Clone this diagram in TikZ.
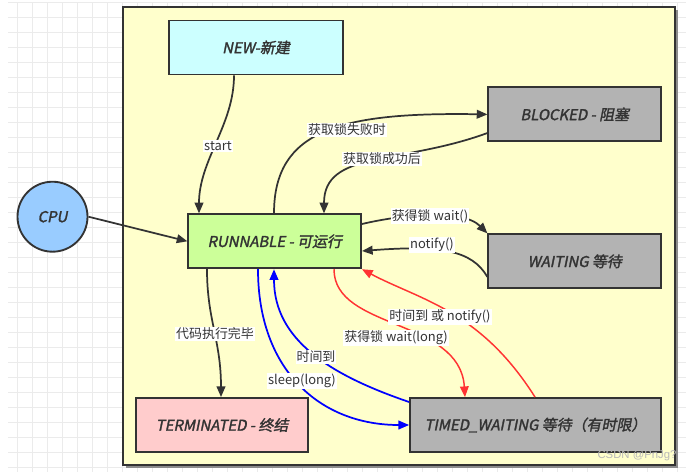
\documentclass[tikz,border=0pt]{standalone}
\usepackage{fontspec}
\setmainfont{Noto Sans CJK SC}
\newfontfamily\boxfont{Noto Sans CJK SC}[FakeSlant=0.2,FakeBold=1.8]
\newfontfamily\wmfont{Liberation Sans}
\usetikzlibrary{arrows.meta,calc}
\definecolor{ink}{HTML}{333333}
\definecolor{frameY}{HTML}{FFFFCC}
\definecolor{newC}{HTML}{CCFFFF}
\definecolor{runC}{HTML}{CCFF99}
\definecolor{greyC}{HTML}{B3B3B3}
\definecolor{termC}{HTML}{FFCCCC}
\definecolor{cpuC}{HTML}{99CCFF}
\definecolor{blueL}{HTML}{0000FF}
\definecolor{redL}{HTML}{FF3333}
\definecolor{gridL}{HTML}{EBEBEB}
\tikzset{
  statebox/.style={draw=ink, line width=1.4pt, minimum height=40.5pt, minimum width=129.5pt,
    text=ink, font=\boxfont\fontsize{11.2}{13}\selectfont, inner sep=0pt},
  lab/.style={fill=white, inner sep=0.8pt, text=ink, font=\fontsize{9.7}{11}\selectfont},
  conn/.style={draw=ink, line width=1.3pt, -{Triangle[length=8pt,width=6.5pt]}},
  bconn/.style={draw=blueL, line width=1.3pt, -{Triangle[length=8pt,width=6.5pt]}},
  rconn/.style={draw=redL, line width=1.1pt, -{Triangle[length=8pt,width=6.5pt]}}
}
\begin{document}
\begin{tikzpicture}[x=0.75pt,y=-0.75pt]
\useasboundingbox (0,0) rectangle (686,472);
% background grid
\fill[white] (0,0) rectangle (686,472);
\foreach \gx in {17,32,...,686} \draw[gridL, line width=0.75pt] (\gx,2) -- (\gx,472);
\foreach \gy in {2,17,...,472} \draw[gridL, line width=0.75pt] (8,\gy) -- (686,\gy);
% frame
\fill[black!45] (125.5,9.5) rectangle (677.5,467.5);
\draw[draw=ink, fill=frameY, line width=1.4pt] (123,7) rectangle (675,465);
% states
\node[statebox, fill=newC, minimum width=130pt] (new) at (256,47.5) {NEW-新建};
\node[statebox, fill=greyC] (blocked) at (574.7,114.4) {BLOCKED - 阻塞};
\node[statebox, fill=runC] (runnable) at (274.7,241.3) {RUNNABLE - 可运行};
\node[statebox, fill=greyC] (waiting) at (574.7,261.3) {WAITING 等待};
\node[statebox, fill=termC] (terminated) at (222,425) {TERMINATED - 终结};
\node[statebox, fill=greyC, minimum width=188pt] (timed) at (535.4,425) {TIMED\_WAITING 等待（有时限）};
\node[circle, draw=ink, line width=1.4pt, fill=cpuC, minimum size=52.5pt, inner sep=0pt,
  text=ink, font=\boxfont\fontsize{11.2}{13}\selectfont] (cpu) at (52.5,216.7) {CPU};
% connectors
\draw[conn] (cpu.east) -- (runnable.west);
\draw[conn] (new.south -| 234,0) .. controls (234,125) and (199,160) .. (runnable.north -| 199,0);
\node[lab] (lstart) at (218,146) {start};
\draw[conn] (runnable.north -| 274,0) .. controls (274,130) and (340,112) .. (blocked.west);
\node[lab] (lfail) at (347,130) {获取锁失败时};
\draw[conn] (blocked.west |- 0,133) .. controls (400,165) and (324,150) .. (runnable.north -| 324,0);
\node[lab] (lsucc) at (382,159) {获取锁成功后};
\draw[conn] (runnable.east |- 0,224) .. controls (400,215) and (462,208) .. (waiting.north west);
\node[lab] (lwait) at (430,216) {获得锁 wait()};
\draw[conn] (waiting.west |- 0,277) .. controls (472,250) and (440,245) .. (runnable.east |- 0,251);
\node[lab] (lnotify) at (432,245) {notify()};
\draw[conn] (runnable.south -| 207,0) .. controls (207,320) and (221,340) .. (terminated.north -| 221,0);
\node[lab] (ldone) at (215,334) {代码执行完毕};
\draw[bconn] (runnable.south -| 258,0) .. controls (258,370) and (320,425) .. (timed.west);
\node[lab] (lsleep) at (302,381) {sleep(long)};
\draw[bconn] (timed.west |- 0,402) .. controls (330,375) and (274,340) .. (runnable.south -| 274,0);
\node[lab] (ltime) at (316,357) {时间到};
\draw[rconn] (runnable.south -| 334,0) .. controls (334,330) and (460,318) .. (timed.north -| 465,0);
\node[lab] (lwl) at (396,338) {获得锁 wait(long)};
\draw[rconn] (timed.north -| 535,0) .. controls (480,310) and (420,300) .. (runnable.south east);
\node[lab] (ltn) at (440,317) {时间到 或 notify()};
% watermark
\node[text=black!28, font=\wmfont\fontsize{8.5}{10}\selectfont, inner sep=0pt] (wm) at (637,456) {CSDN @PnJg?};
\end{tikzpicture}
\end{document}
